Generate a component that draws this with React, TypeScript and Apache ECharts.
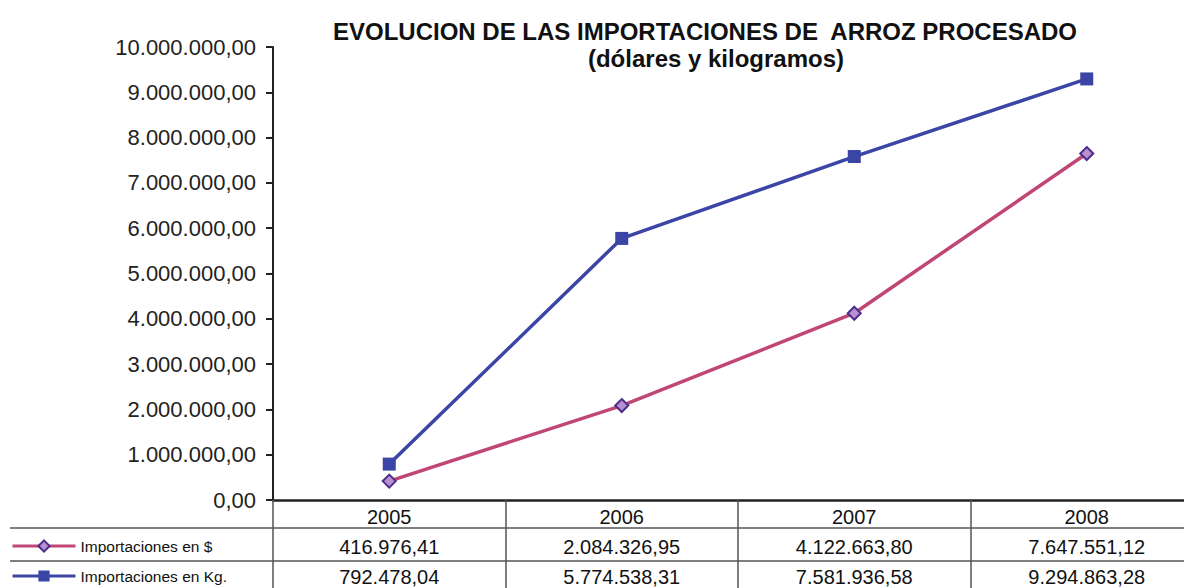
import React, { useEffect, useRef } from "react";
import * as echarts from "echarts";

const years = ["2005", "2006", "2007", "2008"];
const importUSD = [416976.41, 2084326.95, 4122663.8, 7647551.12];
const importKg = [792478.04, 5774538.31, 7581936.58, 9294863.28];
const seriesNames = ["Importaciones en $", "Importaciones en Kg."];
const titleText = "EVOLUCION DE LAS IMPORTACIONES DE  ARROZ PROCESADO";
const subtitleText = "(dólares y kilogramos)";

function fmt(v: number): string {
  const [i, d] = v.toFixed(2).split(".");
  return i.replace(/\B(?=(\d{3})+(?!\d))/g, ".") + "," + d;
}

const FONT = "'Liberation Sans', Arial, sans-serif";
const PINK = "#C04676";
const BLUE = "#3B45A6";

export default function App() {
  const ref = useRef<HTMLDivElement>(null);
  useEffect(() => {
    document.body.style.margin = "0";
    if (!ref.current) return;
    const chart = echarts.init(ref.current, undefined, { renderer: "svg" });
    const legendBase = {
      orient: "horizontal",
      left: 11,
      padding: 0,
      itemWidth: 63,
      itemHeight: 14,
      textStyle: { fontSize: 15.5, color: "#111", fontFamily: FONT },
    };
    chart.setOption({
      animation: false,
      backgroundColor: "#ffffff",
      textStyle: { fontFamily: FONT },
      graphic: [
        {
          type: "text",
          x: 705,
          y: 31,
          style: {
            text: titleText,
            textAlign: "center",
            textVerticalAlign: "middle",
            font: `bold 24px ${FONT}`,
            fill: "#111",
          },
        },
        {
          type: "text",
          x: 716,
          y: 58,
          style: {
            text: subtitleText,
            textAlign: "center",
            textVerticalAlign: "middle",
            font: `bold 24px ${FONT}`,
            fill: "#111",
          },
        },
        {
          type: "line",
          shape: { x1: 10, y1: 528, x2: 1184, y2: 528 },
          style: { stroke: "#555", lineWidth: 1.5 },
        },
        {
          type: "line",
          shape: { x1: 10, y1: 561, x2: 1184, y2: 561 },
          style: { stroke: "#555", lineWidth: 1.5 },
        },
      ],
      legend: [
        {
          ...legendBase,
          top: 538,
          data: [{ name: seriesNames[0], lineStyle: { width: 3, color: PINK } }],
        },
        {
          ...legendBase,
          top: 568,
          data: [{ name: seriesNames[1], lineStyle: { width: 3, color: BLUE } }],
        },
      ],
      grid: {
        left: 273,
        width: 930,
        top: 47,
        bottom: 88,
        containLabel: false,
        outerBoundsMode: "none",
      },
      xAxis: {
        type: "category",
        data: years,
        boundaryGap: true,
        axisLine: { show: true, lineStyle: { color: "#222", width: 2.5 } },
        axisTick: {
          show: true,
          interval: 0,
          length: 92,
          lineStyle: { color: "#555", width: 1.5 },
        },
        axisLabel: {
          interval: 0,
          margin: 2,
          fontSize: 20,
          lineHeight: 30,
          color: "#111",
          fontFamily: FONT,
          formatter: (value: string, idx: number) =>
            `${value}\n${fmt(importUSD[idx])}\n${fmt(importKg[idx])}`,
        },
        splitLine: { show: false },
      },
      yAxis: {
        type: "value",
        min: 0,
        max: 10000000,
        interval: 1000000,
        axisLine: { show: true, lineStyle: { color: "#222", width: 2 } },
        axisTick: { show: true, length: 7, lineStyle: { color: "#222", width: 2 } },
        axisLabel: {
          margin: 17,
          fontSize: 22,
          color: "#222",
          fontFamily: FONT,
          formatter: (v: number) => fmt(v),
        },
        splitLine: { show: false },
      },
      series: [
        {
          name: seriesNames[0],
          type: "line",
          data: importUSD,
          symbol: "diamond",
          symbolSize: 13,
          lineStyle: { color: PINK, width: 3.5 },
          itemStyle: { color: "#B890D0", borderColor: "#4A2E8A", borderWidth: 2 },
          z: 3,
        },
        {
          name: seriesNames[1],
          type: "line",
          data: importKg,
          symbol: "rect",
          symbolSize: 13,
          lineStyle: { color: BLUE, width: 3.5 },
          itemStyle: { color: BLUE },
          z: 4,
        },
      ],
    });
    return () => chart.dispose();
  }, []);
  return <div ref={ref} style={{ width: 1184, height: 588 }} />;
}
